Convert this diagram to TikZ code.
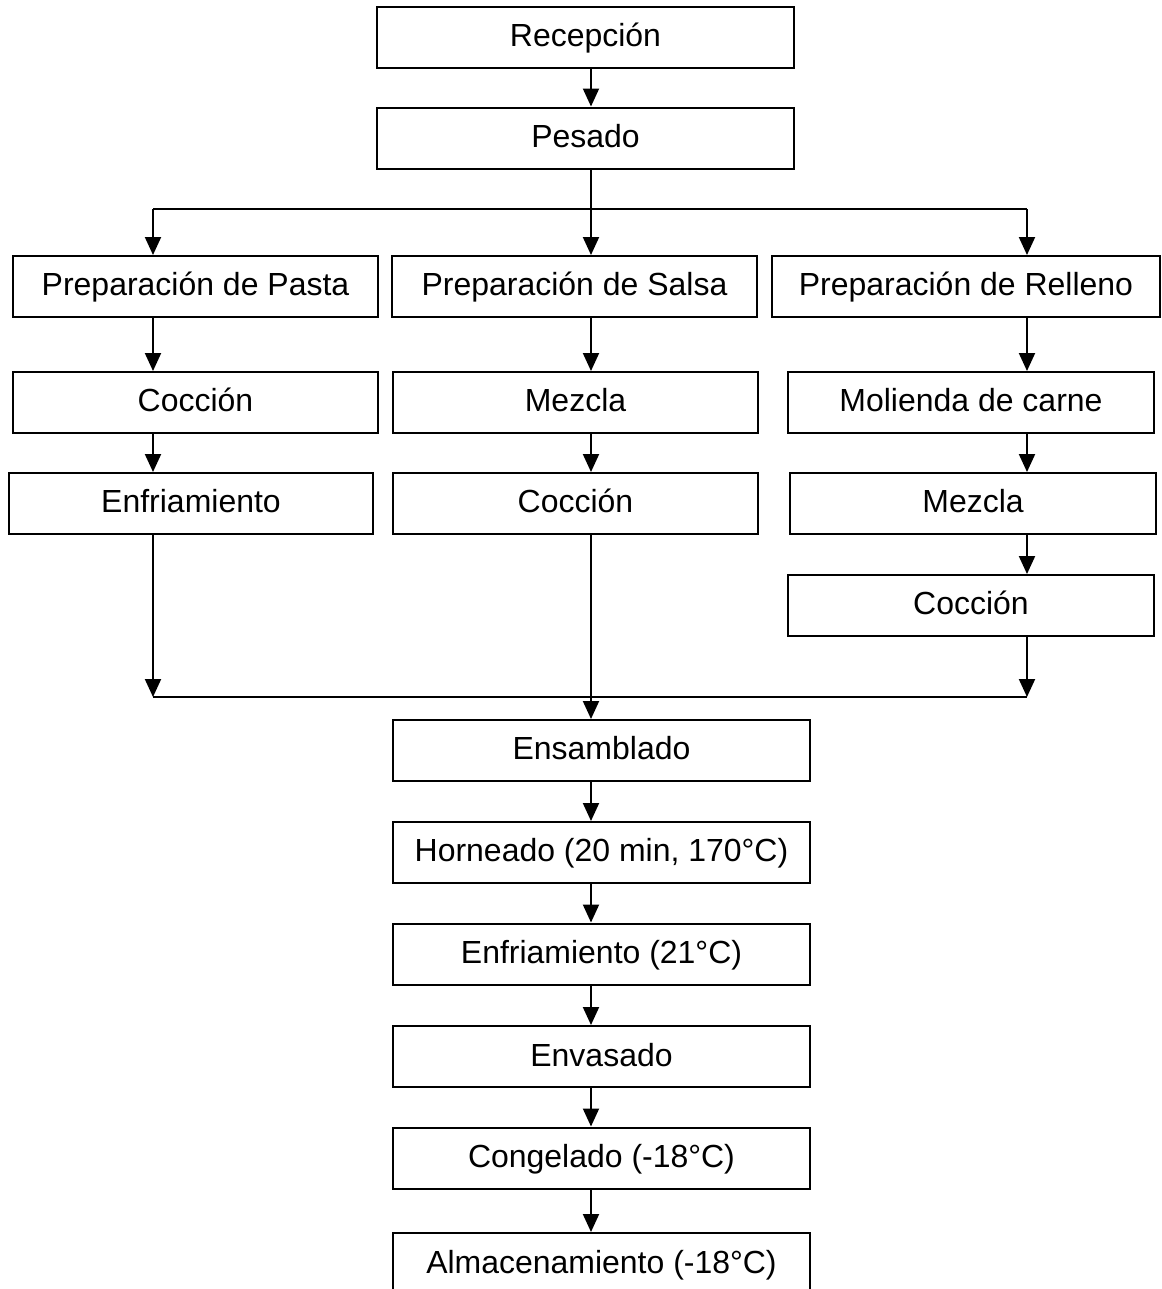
\documentclass[tikz,border=0pt]{standalone}
\usepackage{fontspec}
\setmainfont{Liberation Sans}
\usetikzlibrary{arrows.meta}
\tikzset{>={Triangle[length=0.36cm,width=0.32cm]}}
\tikzset{
  stage/.style={draw,line width=0.04cm,inner sep=0pt,
    minimum width=7.3cm,minimum height=1.22cm,
    text height=13pt,text depth=2.2pt,
    font=\fontsize{18.2}{21}\selectfont},
  widestage/.style={stage,minimum width=8.36cm},
  flow/.style={line width=0.04cm}
}

\begin{document}
\begin{tikzpicture}[x=0.02cm,y=-0.02cm]
  \useasboundingbox (0,0) rectangle (1161,1289);
  % columns of the connectors
  \coordinate (lx) at (153,0);
  \coordinate (mx) at (591,0);
  \coordinate (rx) at (1027,0);
  \coordinate (fork) at (591,209);
  \coordinate (join) at (591,697);
  % common start
  \node[widestage] (recep)  at (585.5,37.5) {Recepción};
  \node[widestage] (pesado) at (585.5,138)  {Pesado};
  % three branches
  \node[stage] (prepP) at (195.5,286.5) {Preparación de Pasta};
  \node[stage] (prepS) at (574.5,286.5) {Preparación de Salsa};
  \node[stage,minimum width=7.76cm] (prepR) at (966,286.5) {Preparación de Relleno};
  \node[stage] (coccP) at (195.5,402.5) {Cocción};
  \node[stage] (mezS)  at (575.5,402.5) {Mezcla};
  \node[stage,minimum width=7.32cm] (molR) at (971,402.5) {Molienda de carne};
  \node[stage,minimum width=7.28cm] (enfP) at (191,503.5) {Enfriamiento};
  \node[stage] (coccS) at (575.5,503.5) {Cocción};
  \node[stage,minimum width=7.32cm] (mezR)  at (973,503.5) {Mezcla};
  \node[stage,minimum width=7.32cm] (coccR) at (971,605.5) {Cocción};
  % common end
  \node[widestage] (ensam) at (601.5,750.5) {Ensamblado};
  \node[widestage] (horn)  at (601.5,852.5) {Horneado (20 min, 170°C)};
  \node[widestage] (enfr)  at (601.5,954)   {Enfriamiento (21°C)};
  \node[widestage] (envas) at (601.5,1056.5) {Envasado};
  \node[widestage] (cong)  at (601.5,1158)  {Congelado (-18°C)};
  \node[widestage] (almac) at (601.5,1263.5) {Almacenamiento (-18°C)};
  % fork
  \draw[flow,->] (recep.south -| mx) -- (pesado.north -| mx);
  \draw[flow,->] (pesado.south -| mx) -- (prepS.north -| mx);
  \draw[flow] (fork -| lx) -- (fork -| rx);
  \draw[flow,->] (fork -| lx) -- (prepP.north -| lx);
  \draw[flow,->] (fork -| rx) -- (prepR.north -| rx);
  % branches
  \draw[flow,->] (prepP.south -| lx) -- (coccP.north -| lx);
  \draw[flow,->] (coccP.south -| lx) -- (enfP.north -| lx);
  \draw[flow,->] (prepS.south -| mx) -- (mezS.north -| mx);
  \draw[flow,->] (mezS.south -| mx) -- (coccS.north -| mx);
  \draw[flow,->] (prepR.south -| rx) -- (molR.north -| rx);
  \draw[flow,->] (molR.south -| rx) -- (mezR.north -| rx);
  \draw[flow,->] (mezR.south -| rx) -- (coccR.north -| rx);
  % join
  \draw[flow,->] (enfP.south -| lx) -- (join -| lx);
  \draw[flow,->] (coccR.south -| rx) -- (join -| rx);
  \draw[flow] (join -| lx) -- (join -| rx);
  \draw[flow,->] (coccS.south -| mx) -- (ensam.north -| mx);
  % end line
  \draw[flow,->] (ensam.south -| mx) -- (horn.north -| mx);
  \draw[flow,->] (horn.south -| mx) -- (enfr.north -| mx);
  \draw[flow,->] (enfr.south -| mx) -- (envas.north -| mx);
  \draw[flow,->] (envas.south -| mx) -- (cong.north -| mx);
  \draw[flow,->] (cong.south -| mx) -- (almac.north -| mx);
\end{tikzpicture}
\end{document}
